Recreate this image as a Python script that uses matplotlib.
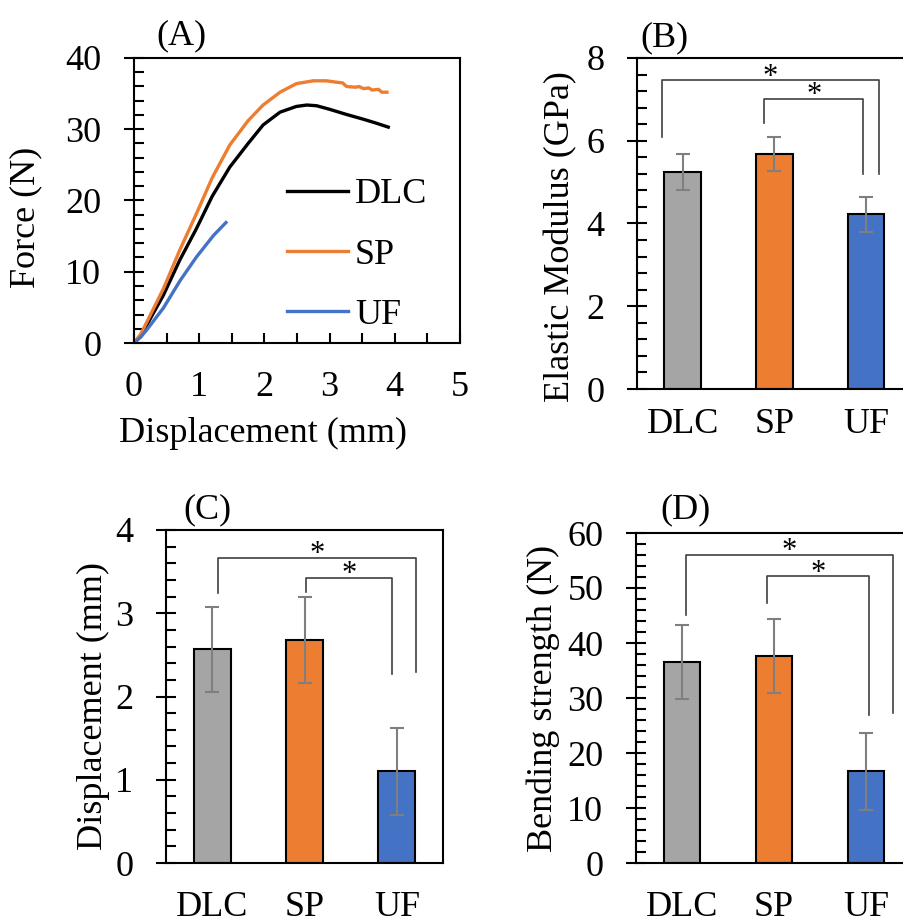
import matplotlib
matplotlib.use("Agg")
import matplotlib.pyplot as plt
from matplotlib.ticker import MultipleLocator

plt.rcParams['font.family'] = ['Liberation Serif', 'DejaVu Serif']
plt.rcParams['font.size'] = 26

# (A) force-displacement curves
dlc_x = [0, 0.1, 0.2, 0.45, 0.7, 0.96, 1.2, 1.47, 1.75, 1.98, 2.24, 2.49, 2.65, 2.8, 3.0, 3.25, 3.52, 3.7, 3.9]
dlc_y = [0, 1.0, 2.6, 6.7, 11.6, 16.1, 20.6, 24.7, 28.0, 30.6, 32.4, 33.2, 33.4, 33.3, 32.8, 32.1, 31.4, 30.9, 30.3]
sp_x = [0, 0.1, 0.2, 0.45, 0.7, 0.96, 1.2, 1.47, 1.75, 1.98, 2.24, 2.49, 2.75, 2.95, 3.11, 3.2, 3.26, 3.4, 3.45,
        3.52, 3.6, 3.65, 3.75, 3.8, 3.88]
sp_y = [0, 1.2, 3.0, 7.6, 13.0, 18.2, 23.2, 27.8, 31.2, 33.4, 35.2, 36.4, 36.8, 36.8, 36.6, 36.5, 36.0, 35.9, 36.0,
        35.7, 35.8, 35.5, 35.6, 35.2, 35.2]
uf_x = [0, 0.1, 0.2, 0.45, 0.71, 0.96, 1.22, 1.41]
uf_y = [0, 0.8, 1.9, 4.9, 8.8, 12.1, 15.1, 16.9]

# bar panels
groups = ['DLC', 'SP', 'UF']
modulus = [5.25, 5.68, 4.22]
modulus_sd = [0.44, 0.41, 0.42]
disp = [2.57, 2.68, 1.10]
disp_sd = [0.51, 0.52, 0.52]
strength = [36.6, 37.7, 16.7]
strength_sd = [6.7, 6.7, 7.0]

colors = ['#A5A5A5', '#ED7D31', '#4472C4']

W, H = 904, 922
fig = plt.figure(figsize=(W / 100, H / 100), dpi=100)


def box(l, r, t, b):
    return [l / W, 1 - b / H, (r - l) / W, (b - t) / H]


def yticks(ax, major, minor):
    ax.yaxis.set_major_locator(MultipleLocator(major))
    ax.yaxis.set_minor_locator(MultipleLocator(minor))
    ax.tick_params(axis='y', which='major', direction='inout', length=15, width=1.5, pad=16)
    ax.tick_params(axis='y', which='minor', direction='in', length=7, width=1.5)
    for s in ax.spines.values():
        s.set_linewidth(1.5)


def bracket(ax, x1, x2, level, y1, y2):
    ax.plot([x1, x1, x2, x2], [y1, level, level, y2], color='#404040', lw=1.2, clip_on=False)
    ax.annotate('*', ((x1 + x2) / 2, level), xytext=(0, -3), textcoords='offset points',
                ha='center', va='baseline', fontsize=22)


def barpanel(ax, vals, sds, top, major, minor, ylabel, pad):
    ax.bar(range(3), vals, width=0.4, color=colors, edgecolor='black', linewidth=1.5, zorder=2)
    ax.errorbar(range(3), vals, yerr=sds, fmt='none', ecolor='#7F7F7F', elinewidth=1.5,
                capsize=5, capthick=1.5, zorder=3)
    ax.set_xlim(-0.5, 2.5)
    ax.set_ylim(0, top)
    ax.set_xticks(range(3))
    ax.set_xticklabels(groups)
    ax.tick_params(axis='x', length=0, pad=pad)
    yticks(ax, major, minor)
    ax.set_ylabel(ylabel)


# (A)
axA = fig.add_axes(box(134, 460, 58, 343))
axA.plot(dlc_x, dlc_y, color='black', lw=2.4, label='DLC')
axA.plot(sp_x, sp_y, color='#ED7D31', lw=2.4, label='SP')
axA.plot(uf_x, uf_y, color='#4472C4', lw=2.4, label='UF')
axA.set_xlim(0, 5)
axA.set_ylim(0, 40)
axA.xaxis.set_major_locator(MultipleLocator(1))
axA.xaxis.set_minor_locator(MultipleLocator(0.5))
axA.tick_params(axis='x', which='both', direction='in', length=7, width=1.5, pad=20)
yticks(axA, 10, 2)
axA.set_xlabel('Displacement (mm)')
axA.set_ylabel('Force (N)')
axA.xaxis.set_label_coords(0.396, -0.26)
axA.yaxis.set_label_coords(-0.28, 0.44)
axA.legend(loc='lower right', frameon=False, handlelength=1.7, handletextpad=0.2,
           labelspacing=0.75, bbox_to_anchor=(1.0, -0.075))
axA.text(0.147, 1.02, '(A)', transform=axA.transAxes, ha='center', va='bottom')

# (B)
axB = fig.add_axes(box(637, 912, 58, 389))
barpanel(axB, modulus, modulus_sd, 8, 2, 0.4, 'Elastic Modulus (GPa)', 14)
axB.yaxis.set_label_coords(-0.218, 0.46)
bracket(axB, -0.23, 2.14, 7.46, 6.09, 5.19)
bracket(axB, 0.89, 1.97, 7.02, 6.42, 5.19)
axB.text(0.10, 1.01, '(B)', transform=axB.transAxes, ha='center', va='bottom')

# (C)
axC = fig.add_axes(box(166, 443, 530, 863))
barpanel(axC, disp, disp_sd, 4, 1, 0.2, 'Displacement (mm)', 20)
axC.yaxis.set_label_coords(-0.202, 0.47)
bracket(axC, 0.06, 2.21, 3.66, 3.24, 2.30)
bracket(axC, 1.02, 1.95, 3.42, 3.26, 2.27)
axC.text(0.15, 1.01, '(C)', transform=axC.transAxes, ha='center', va='bottom')

# (D)
axD = fig.add_axes(box(636, 912, 533, 863))
barpanel(axD, strength, strength_sd, 60, 10, 2, 'Bending strength (N)', 20)
axD.yaxis.set_label_coords(-0.275, 0.5)
bracket(axD, 0.04, 2.29, 55.95, 45.1, 27.2)
bracket(axD, 0.92, 2.03, 52.1, 47.2, 26.9)
axD.text(0.18, 1.02, '(D)', transform=axD.transAxes, ha='center', va='bottom')

fig.savefig('out.png', dpi=100)
